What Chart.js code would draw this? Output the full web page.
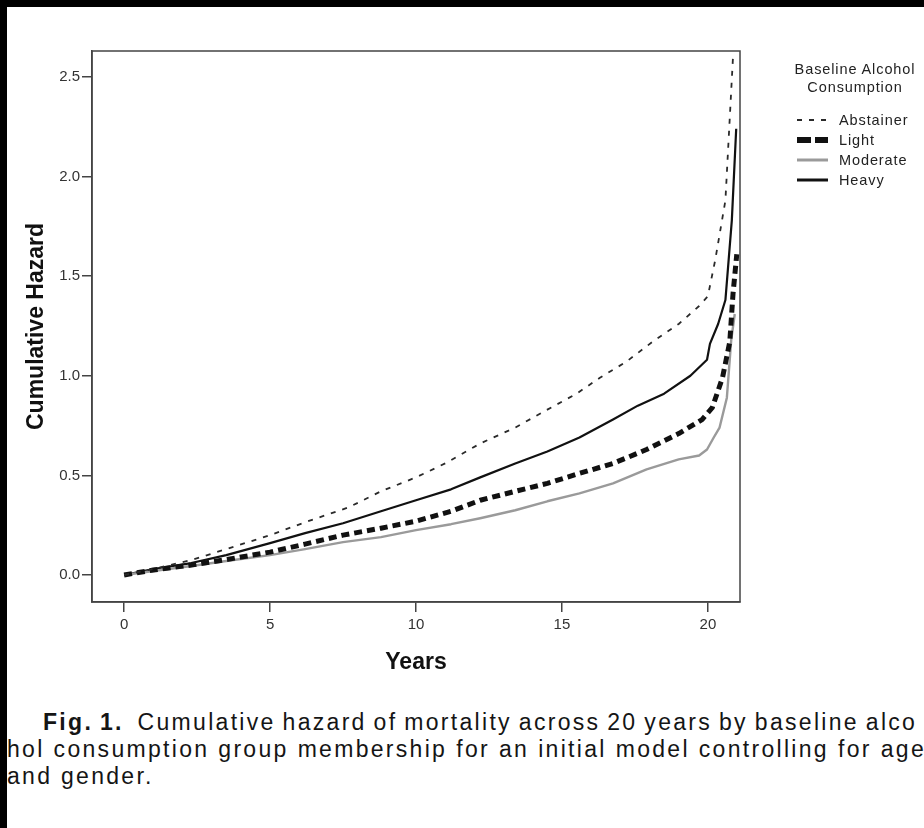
<!DOCTYPE html>
<html>
<head>
<meta charset="utf-8">
<script src="https://cdn.jsdelivr.net/npm/chart.js@4.4.1/dist/chart.umd.min.js"></script>
<style>
  html, body { margin:0; padding:0; width:924px; height:828px; overflow:hidden; background:#000; }
  #page { position:absolute; left:7px; top:7px; width:917px; height:821px; background:#fff; }
  #chartBox { position:absolute; left:0; top:0; width:924px; height:690px; }
  #legend { position:absolute; left:790px; top:60px; width:134px; font-family:"Liberation Sans", Arial, sans-serif; font-size:14.5px; letter-spacing:0.9px; color:#222; }
  #legend .ttl { text-align:center; line-height:18px; margin-left:0; width:130px; }
  #legend .row { position:absolute; left:7px; height:20px; display:flex; align-items:center; white-space:nowrap; }
  #legend svg { display:block; margin-right:11px; }
  .cap { position:absolute; font-family:"Liberation Sans", Arial, sans-serif; font-size:23px; color:#151515; white-space:nowrap; letter-spacing:2.3px; line-height:27px; }
</style>
</head>
<body>
<div id="page"></div>
<div id="chartBox"><canvas id="c" width="924" height="690"></canvas></div>
<div id="legend"></div>
<div class="cap" id="cap1" data-target="876" style="left:43px; top:709px;"><b>Fig. 1.</b>&nbsp; Cumulative hazard of mortality across 20 years by baseline alco</div>
<div class="cap" id="cap2" data-target="919" style="left:7px; top:736px;">hol consumption group membership for an initial model controlling for age</div>
<div class="cap" id="cap3" style="left:7px; top:763px;">and gender.</div>
<script>
// ---------------- data ----------------
const seriesNames = ['Abstainer', 'Light', 'Moderate', 'Heavy'];
const legendTitle = ['Baseline Alcohol', 'Consumption'];

const abstainerYears  = [0, 1, 2.3, 3.5, 5, 6.3, 7.7, 8.8, 10, 11, 12.2, 13.4, 14.5, 15.5, 16.3, 17.2, 18.1, 19.0, 19.7, 20.0, 20.25, 20.6, 20.86];
const abstainerHazard = [0, 0.03, 0.075, 0.13, 0.20, 0.27, 0.34, 0.42, 0.49, 0.56, 0.66, 0.74, 0.83, 0.91, 0.99, 1.07, 1.17, 1.26, 1.35, 1.40, 1.58, 1.88, 2.60];

const lightYears  = [0, 1, 2.3, 3.4, 5, 6.2, 7.5, 8.8, 10, 11.2, 12.2, 13.4, 14.5, 15.6, 16.75, 17.9, 19.0, 19.8, 20.15, 20.5, 20.75, 20.86, 20.99];
const lightHazard = [0, 0.025, 0.05, 0.075, 0.115, 0.155, 0.20, 0.235, 0.27, 0.32, 0.375, 0.42, 0.46, 0.51, 0.56, 0.63, 0.71, 0.78, 0.84, 0.99, 1.17, 1.41, 1.61];

const moderateYears  = [0, 1, 2.3, 3.5, 5, 6.2, 7.5, 8.8, 10, 11.2, 12.2, 13.4, 14.5, 15.6, 16.75, 17.9, 19.0, 19.7, 19.97, 20.2, 20.4, 20.65, 20.8, 20.92];
const moderateHazard = [0, 0.02, 0.045, 0.07, 0.10, 0.13, 0.165, 0.19, 0.225, 0.255, 0.285, 0.325, 0.37, 0.41, 0.46, 0.53, 0.58, 0.60, 0.63, 0.69, 0.74, 0.89, 1.18, 1.31];

const heavyYears  = [0, 1, 2.3, 3.5, 5, 6.2, 7.5, 8.8, 10, 11.2, 12.2, 13.4, 14.5, 15.6, 16.75, 17.6, 18.5, 19.4, 19.97, 20.07, 20.35, 20.6, 20.82, 20.97];
const heavyHazard = [0, 0.03, 0.06, 0.10, 0.16, 0.21, 0.26, 0.32, 0.375, 0.43, 0.49, 0.56, 0.62, 0.69, 0.78, 0.85, 0.91, 1.0, 1.08, 1.16, 1.26, 1.38, 1.78, 2.24];

const xTickValues = [0, 5, 10, 15, 20];
const yTickValues = [0, 0.5, 1.0, 1.5, 2.0, 2.5];
const xRange = [-1.1, 21.1];
const yRange = [-0.1355, 2.63];

// ---------------- styles ----------------
const FONT = '"Liberation Sans", Arial, sans-serif';
const styles = {
  Abstainer: { color:'#2a2a2a', width:1.8, dash:[5, 7], legendDash:[5, 7], legendWidth:2 },
  Light:     { color:'#111111', width:5,   dash:[8, 5], legendDash:[14, 4], legendWidth:6 },
  Moderate:  { color:'#9a9a9a', width:2.4, dash:[],     legendDash:[],      legendWidth:3 },
  Heavy:     { color:'#111111', width:2.2, dash:[],     legendDash:[],      legendWidth:3 }
};

function pts(xs, ys) { return xs.map((x, i) => ({ x: x, y: ys[i] })); }
const seriesData = {
  Abstainer: pts(abstainerYears, abstainerHazard),
  Light: pts(lightYears, lightHazard),
  Moderate: pts(moderateYears, moderateHazard),
  Heavy: pts(heavyYears, heavyHazard)
};

const datasets = seriesNames.map(n => ({
  label: n,
  data: seriesData[n],
  borderColor: styles[n].color,
  borderWidth: styles[n].width,
  borderDash: styles[n].dash,
  borderCapStyle: 'butt',
  borderJoinStyle: 'round',
  pointRadius: 0,
  fill: false,
  tension: 0
}));

const framePlugin = {
  id: 'frame',
  afterDatasetsDraw(chart) {
    const { ctx, chartArea: a } = chart;
    ctx.save();
    ctx.strokeStyle = '#444';
    ctx.lineWidth = 1.5;
    ctx.strokeRect(a.left, a.top, a.right - a.left, a.bottom - a.top);
    ctx.restore();
  }
};

const htmlLegend = {
  id: 'htmlLegend',
  afterUpdate(chart) {
    const box = document.getElementById('legend');
    box.innerHTML = '';
    legendTitle.forEach(t => {
      const d = document.createElement('div');
      d.className = 'ttl';
      d.textContent = t;
      box.appendChild(d);
    });
    chart.data.datasets.forEach((ds, i) => {
      const st = styles[ds.label];
      const row = document.createElement('div');
      row.className = 'row';
      row.style.top = (50 + i * 20) + 'px';
      const svgNS = 'http://www.w3.org/2000/svg';
      const svg = document.createElementNS(svgNS, 'svg');
      svg.setAttribute('width', '31'); svg.setAttribute('height', '10');
      const ln = document.createElementNS(svgNS, 'line');
      ln.setAttribute('x1', '0'); ln.setAttribute('x2', '31');
      ln.setAttribute('y1', '5'); ln.setAttribute('y2', '5');
      ln.setAttribute('stroke', st.color);
      ln.setAttribute('stroke-width', st.legendWidth);
      if (st.legendDash.length) ln.setAttribute('stroke-dasharray', st.legendDash.join(' '));
      svg.appendChild(ln);
      const txt = document.createElement('span');
      txt.textContent = ds.label;
      row.appendChild(svg); row.appendChild(txt);
      box.appendChild(row);
    });
  }
};

new Chart(document.getElementById('c'), {
  type: 'line',
  data: { datasets: datasets },
  plugins: [framePlugin, htmlLegend],
  options: {
    responsive: false,
    animation: false,
    devicePixelRatio: 1,
    layout: { padding: { left: 0, top: 51, right: 184, bottom: 0 } },
    plugins: { legend: { display: false }, tooltip: { enabled: false } },
    scales: {
      x: {
        type: 'linear', min: xRange[0], max: xRange[1],
        afterFit: s => { s.height = 88; },
        afterBuildTicks: s => { s.ticks = xTickValues.map(v => ({ value: v })); },
        grid: { display: true, drawOnChartArea: false, drawTicks: true, tickLength: 10, color: '#444', lineWidth: 1.5 },
        border: { display: true, color: '#444', width: 1.5 },
        ticks: { font: { family: FONT, size: 15 }, color: '#333', padding: 4, maxRotation: 0, autoSkip: false, callback: v => String(v) },
        title: { display: true, text: 'Years', color: '#111', font: { family: FONT, size: 23, weight: 'bold' }, padding: { top: 0, bottom: 14 } }
      },
      y: {
        type: 'linear', min: yRange[0], max: yRange[1],
        afterFit: s => { s.width = 92; },
        afterBuildTicks: s => { s.ticks = yTickValues.map(v => ({ value: v })); },
        grid: { display: true, drawOnChartArea: false, drawTicks: true, tickLength: 10, color: '#444', lineWidth: 1.5 },
        border: { display: true, color: '#444', width: 1.5 },
        ticks: { font: { family: FONT, size: 15 }, color: '#333', padding: 2, autoSkip: false, callback: v => Number(v).toFixed(1) },
        title: { display: true, text: 'Cumulative Hazard', color: '#111', font: { family: FONT, size: 23, weight: 'bold' }, padding: { top: 23, bottom: 0 } }
      }
    }
  }
});

// justify caption lines to the reference widths
['cap1', 'cap2'].forEach(id => {
  const el = document.getElementById(id);
  const target = Number(el.dataset.target);
  const w = el.getBoundingClientRect().width;
  const spaces = (el.textContent.match(/ /g) || []).length;
  if (spaces > 0) el.style.wordSpacing = ((target - w) / spaces) + 'px';
});
</script>
</body>
</html>
